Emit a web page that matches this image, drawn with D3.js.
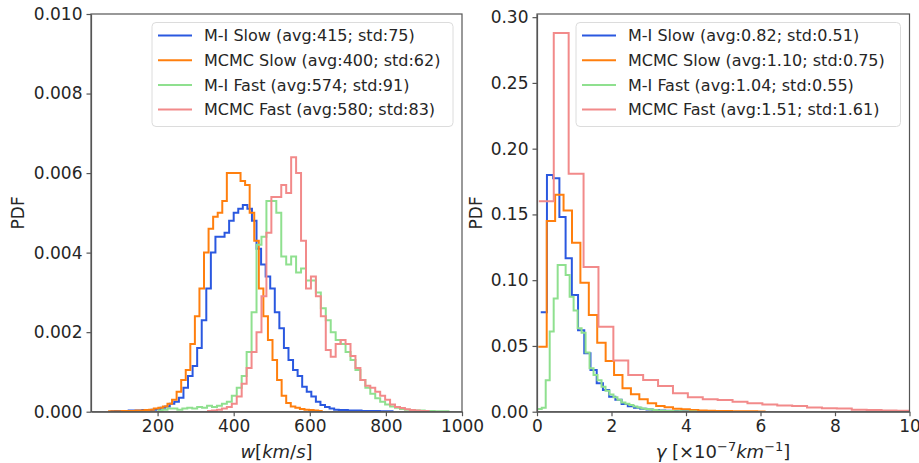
<!DOCTYPE html>
<html>
<head>
<meta charset="utf-8">
<style type="text/css">
    body { margin: 0; background: #fff; }
    svg text { font-family: "DejaVu Sans", sans-serif; fill: #262626; }
    .axis path, .axis line { stroke: #555; stroke-width: 1.2; }
    .axis text { font-size: 17px; }
    .hist { fill: none; stroke-width: 2; }
    .legend text { font-size: 16px; }
</style>
</head>
<body>
<script src="https://d3js.org/d3.v7.min.js"></script>
<script type="text/javascript">

    // series names + colours
    var names = ["M-I Slow", "MCMC Slow", "M-I Fast", "MCMC Fast"];
    var colors = ["#2a58e0", "#ff7f0e", "#8fe08f", "#f28a8a"];

    // left panel: w [km/s], histogram densities (start edge, bin width, values)
    var wLegend = ["(avg:415; std:75)", "(avg:400; std:62)", "(avg:574; std:91)", "(avg:580; std:83)"];
    var wStart = [76, 70, 200, 330];
    var wWidth = [12, 12, 13, 13];
    var wMiSlow = [0.00001, 0.00002, 0.00002, 0.00002, 0.00003, 0.00003, 0.00003, 0.00004, 0.00004, 0.00005,
        0.00006, 0.0001, 0.00013, 0.0002, 0.00025, 0.00035, 0.0006, 0.0009, 0.00115, 0.0016,
        0.0023, 0.0031, 0.0040, 0.0044, 0.0044, 0.0045, 0.0048, 0.0050, 0.0051, 0.0052,
        0.0051, 0.0048, 0.0041, 0.0037, 0.0034, 0.0031, 0.0025, 0.0021, 0.0016, 0.0013,
        0.00105, 0.0009, 0.00063, 0.0005, 0.00038, 0.00025, 0.00017, 0.00012, 0.00008, 0.00005,
        0.00004, 0.00004, 0.00003, 0.00003, 0.00003, 0.00002, 0.00002, 0.00002, 0.00002, 0.00001,
        0.00001, 0.00001];
    var wMcmcSlow = [0.00001, 0.00001, 0.00001, 0.00002, 0.00002, 0.00002, 0.00003, 0.00003, 0.00004, 0.00005,
        0.00008, 0.0001, 0.00013, 0.0002, 0.0003, 0.0005, 0.0008, 0.00105, 0.0017, 0.0024,
        0.0031, 0.0040, 0.0046, 0.0049, 0.0050, 0.0053, 0.0060, 0.0060, 0.0060, 0.0058,
        0.0057, 0.0050, 0.0043, 0.0031, 0.0024, 0.0018, 0.0013, 0.0008, 0.0004, 0.00022,
        0.00013, 0.0001, 0.00007, 0.00005, 0.00004, 0.00003, 0.00002];
    var wMiFast = [0.00003, 0.00005, 0.00008, 0.00008, 0.00005, 0.00008, 0.0001, 0.00008, 0.00012, 0.0001,
        0.00015, 0.00012, 0.00015, 0.0002, 0.00025, 0.0004, 0.0006, 0.0009, 0.0015, 0.0025,
        0.0042, 0.0044, 0.0053, 0.0053, 0.0050, 0.0039, 0.0037, 0.0039, 0.0035, 0.0036,
        0.0033, 0.0033, 0.0030, 0.0026, 0.0023, 0.0020, 0.0018, 0.0017, 0.0015, 0.0013,
        0.00105, 0.0008, 0.0006, 0.00045, 0.00034, 0.00025, 0.00018, 0.00013, 0.0001, 0.00007,
        0.00005, 0.00004, 0.00003, 0.00003, 0.00002, 0.00002, 0.00001, 0.00001, 0.00001];
    var wMcmcFast = [0.00002, 0.00003, 0.00005, 0.00008, 0.00012, 0.0002, 0.00038, 0.0007, 0.0011, 0.0015,
        0.0020, 0.0029, 0.0045, 0.0054, 0.0054, 0.0057, 0.0055, 0.0064, 0.0060, 0.0043,
        0.0031, 0.0034, 0.0029, 0.0024, 0.00155, 0.00138, 0.0017, 0.0018, 0.0017, 0.0014,
        0.0011, 0.0008, 0.00065, 0.0006, 0.0005, 0.0004, 0.0003, 0.00018, 0.00012, 0.00009,
        0.00006, 0.00004, 0.00003, 0.00002, 0.00002];
    var wTicksX = [200, 400, 600, 800, 1000];
    var wTicksY = [0, 0.002, 0.004, 0.006, 0.008, 0.010];

    // right panel: gamma [1e-7 km^-1]
    var gLegend = ["(avg:0.82; std:0.51)", "(avg:1.10; std:0.75)", "(avg:1.04; std:0.55)", "(avg:1.51; std:1.61)"];
    var gStart = [0.10, 0.035, 0.02, 0.05];
    var gWidth = [0.167, 0.226, 0.107, 0.40];
    var gMiSlow = [0.0756, 0.180, 0.1775, 0.148, 0.1166, 0.0887, 0.062, 0.0444, 0.0317, 0.0216,
        0.0165, 0.0114, 0.009, 0.0059, 0.0042, 0.0030, 0.0022, 0.0016, 0.0012, 0.0009,
        0.0007, 0.0005, 0.0004, 0.0003, 0.0002, 0.0002, 0.0001, 0.0001];
    var gMcmcSlow = [0.0494, 0.145, 0.165, 0.153, 0.1285, 0.098, 0.0735, 0.0525, 0.0386, 0.0279,
        0.0178, 0.0132, 0.0094, 0.0064, 0.0043, 0.0033, 0.0023, 0.0018, 0.0013, 0.0010,
        0.0008, 0.0006, 0.0005, 0.0004, 0.0003, 0.0003, 0.0002];
    var gMiFast = [0.002, 0.003, 0.024, 0.061, 0.086, 0.1115, 0.1115, 0.104, 0.0875, 0.077,
        0.0634, 0.060, 0.045, 0.033, 0.028, 0.024, 0.019, 0.016, 0.013, 0.011,
        0.009, 0.007, 0.006, 0.005, 0.004, 0.0032, 0.0025, 0.002, 0.0016, 0.0012,
        0.001, 0.0008, 0.0006, 0.0005, 0.0004, 0.0003, 0.0002, 0.0002, 0.0001, 0.0001];
    var gMcmcFast = [0.160, 0.288, 0.181, 0.110, 0.0646, 0.039, 0.028, 0.0241, 0.0195, 0.014,
        0.0109, 0.0095, 0.0089, 0.0075, 0.0064, 0.0055, 0.0047, 0.0043, 0.0032, 0.0026,
        0.0024, 0.0015, 0.0013, 0.001, 0.0008, 0.0006];
    var gTicksX = [0, 2, 4, 6, 8, 10];
    var gTicksY = [0, 0.05, 0.10, 0.15, 0.20, 0.25, 0.30];

    var width = 919, height = 463;
    var plotTop = 14, plotBottom = 411.7;

    var svg = d3.select("body").append("svg")
        .attr("width", width)
        .attr("height", height);

    function drawPanel(opt) {
        var x = d3.scaleLinear().domain(opt.xDomain).range([opt.left, opt.right]);
        var y = d3.scaleLinear().domain(opt.yDomain).range([plotBottom, plotTop]);

        var g = svg.append("g");

        g.append("clipPath").attr("id", opt.id + "-clip")
            .append("rect")
            .attr("x", opt.left).attr("y", plotTop)
            .attr("width", opt.right - opt.left).attr("height", plotBottom - plotTop);

        var line = d3.line()
            .x(function (d) { return x(d[0]); })
            .y(function (d) { return y(d[1]); })
            .curve(d3.curveStepAfter);

        var plot = g.append("g").attr("clip-path", "url(#" + opt.id + "-clip)");
        opt.series.forEach(function (vals, i) {
            var pts = vals.map(function (v, k) { return [opt.start[i] + k * opt.width[i], v]; });
            pts.push([opt.start[i] + vals.length * opt.width[i], vals[vals.length - 1]]);
            plot.append("path")
                .datum(pts)
                .attr("class", "hist")
                .attr("d", line)
                .style("stroke", colors[i]);
        });

        // axes
        g.append("g").attr("class", "axis")
            .attr("transform", "translate(0," + plotBottom + ")")
            .call(d3.axisBottom(x).tickValues(opt.xTicks).tickFormat(d3.format("d")).tickSize(4.5).tickPadding(4).tickSizeOuter(0));
        g.append("g").attr("class", "axis")
            .attr("transform", "translate(" + opt.left + ",0)")
            .call(d3.axisLeft(y).tickValues(opt.yTicks).tickFormat(d3.format(opt.yFormat)).tickSize(4.5).tickPadding(4).tickSizeOuter(0));

        // frame
        g.append("rect")
            .attr("x", opt.left).attr("y", plotTop)
            .attr("width", opt.right - opt.left).attr("height", plotBottom - plotTop)
            .style("fill", "none").style("stroke", "#555").style("stroke-width", 1.2);

        // y label
        g.append("text")
            .attr("transform", "translate(" + opt.yLabelX + "," + ((plotTop + plotBottom) / 2) + ") rotate(-90)")
            .attr("text-anchor", "middle")
            .attr("dy", "0.35em")
            .style("font-size", "17px")
            .text("PDF");

        // legend
        var lg = g.append("g").attr("class", "legend");
        lg.append("rect")
            .attr("x", opt.legendX).attr("y", 22.5)
            .attr("width", opt.right - 9 - opt.legendX).attr("height", 104)
            .attr("rx", 4)
            .style("fill", "white").style("fill-opacity", 0.85)
            .style("stroke", "#dcdcdc");
        names.forEach(function (n, i) {
            var yy = 35.5 + i * 24.7;
            lg.append("line")
                .attr("x1", opt.legendX + 6).attr("x2", opt.legendX + 40)
                .attr("y1", yy).attr("y2", yy)
                .style("stroke", colors[i]).style("stroke-width", 2);
            lg.append("text")
                .attr("x", opt.legendX + 52).attr("y", yy)
                .attr("dy", "0.36em")
                .text(n + " " + opt.legend[i]);
        });
        return g;
    }

    var left = drawPanel({
        id: "w", left: 91, right: 462,
        xDomain: [25, 1000], yDomain: [0, 0.010],
        start: wStart, width: wWidth,
        series: [wMiSlow, wMcmcSlow, wMiFast, wMcmcFast],
        xTicks: wTicksX, yTicks: wTicksY, yFormat: ".3f",
        yLabelX: 18, legendX: 152, legend: wLegend
    });

    var right = drawPanel({
        id: "g", left: 537, right: 909.5,
        xDomain: [0, 10], yDomain: [0, 0.3024],
        start: gStart, width: gWidth,
        series: [gMiSlow, gMcmcSlow, gMiFast, gMcmcFast],
        xTicks: gTicksX, yTicks: gTicksY, yFormat: ".2f",
        yLabelX: 476, legendX: 576, legend: gLegend
    });

    // x labels (math-style)
    var xl1 = left.append("text")
        .attr("x", 276.5).attr("y", 458)
        .attr("text-anchor", "middle")
        .style("font-size", "18px");
    xl1.append("tspan").style("font-style", "italic").text("w");
    xl1.append("tspan").text("[");
    xl1.append("tspan").style("font-style", "italic").text("km");
    xl1.append("tspan").text("/");
    xl1.append("tspan").style("font-style", "italic").text("s");
    xl1.append("tspan").text("]");

    var xl2 = right.append("text")
        .attr("x", 723).attr("y", 458)
        .attr("text-anchor", "middle")
        .style("font-size", "18px");
    xl2.append("tspan").style("font-style", "italic").text("γ");
    xl2.append("tspan").text(" [×10");
    xl2.append("tspan").attr("dy", -7).style("font-size", "13px").text("−7");
    xl2.append("tspan").attr("dy", 7).style("font-style", "italic").text("km");
    xl2.append("tspan").attr("dy", -7).style("font-size", "13px").text("−1");
    xl2.append("tspan").attr("dy", 7).text("]");

</script>
</body>
</html>
